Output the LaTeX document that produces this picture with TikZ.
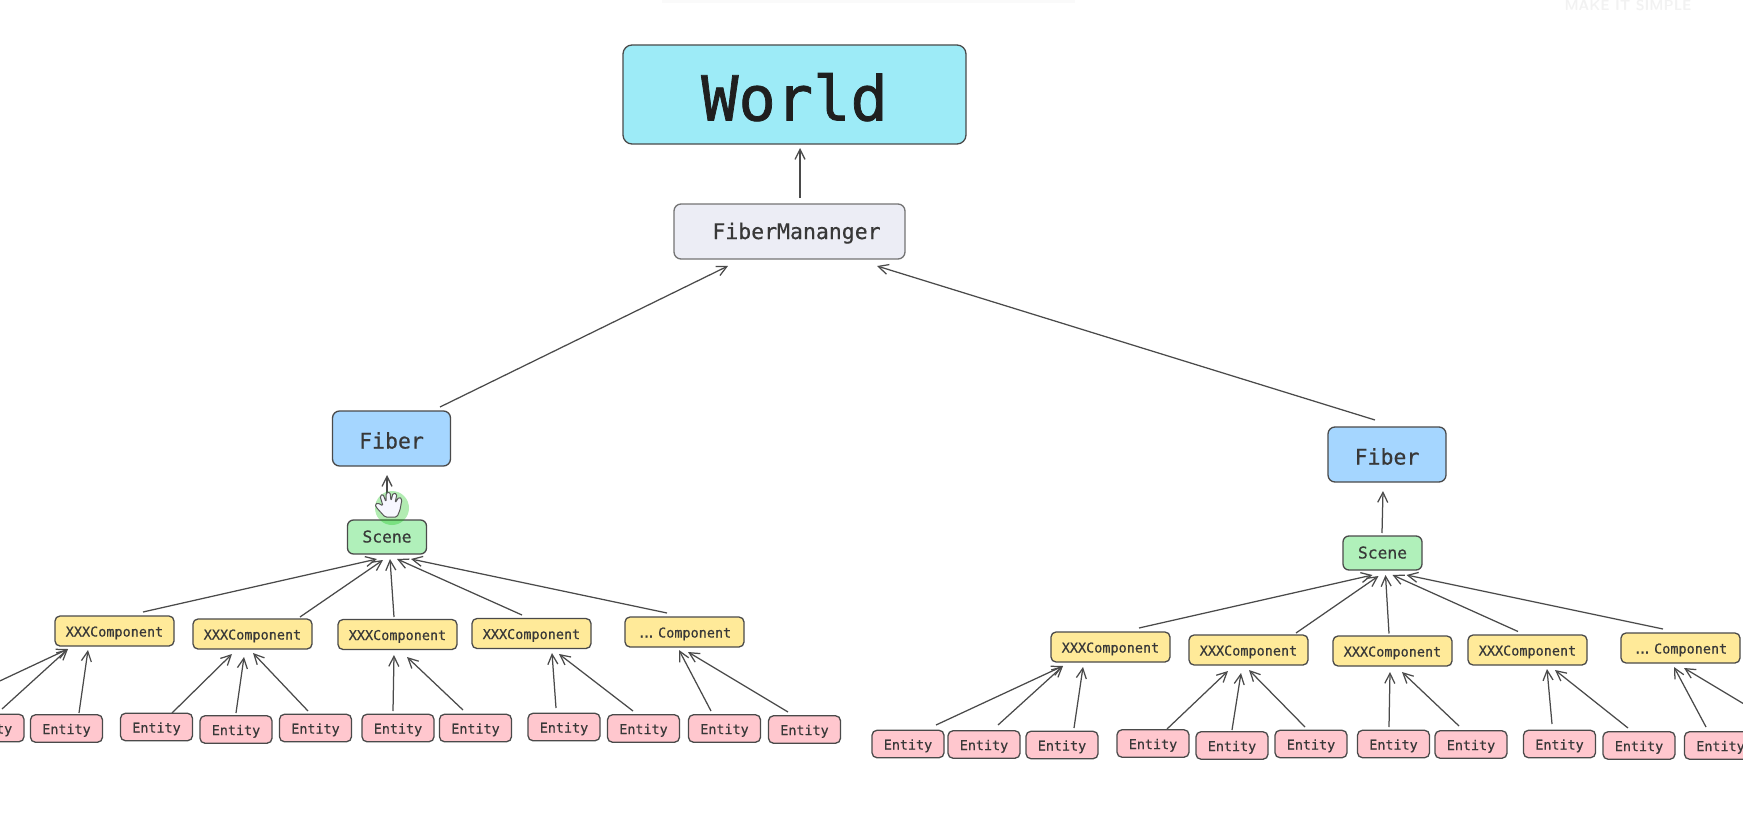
\documentclass[tikz,border=0pt]{standalone}
\usepackage{fontspec}
\setmainfont{DejaVu Sans Mono}[FakeBold=0.5]
\newfontfamily\worldfont{DejaVu Sans Mono}[FakeBold=1.2]
\usetikzlibrary{arrows.meta}
\definecolor{worldfill}{HTML}{9DEBF7}
\definecolor{managerfill}{HTML}{ECEDF5}
\definecolor{fiberfill}{HTML}{A5D6FF}
\definecolor{scenefill}{HTML}{B0F0BA}
\definecolor{compfill}{HTML}{FFEA99}
\definecolor{entityfill}{HTML}{FFC7CE}
\definecolor{edgecol}{HTML}{4A4A4A}
\tikzset{
	box/.style={draw=edgecol,line width=1.3pt,inner sep=0pt,outer sep=0pt,text=black!78,text depth=0pt},
	world/.style={box,fill=worldfill,minimum width=343pt,minimum height=99pt,rounded corners=9pt,font=\worldfont\fontsize{62}{62}\selectfont,text=black!88,text height=52pt},
	manager/.style={box,draw=black!55,fill=managerfill,minimum width=231pt,minimum height=55pt,rounded corners=7pt,font=\fontsize{21.5}{22}\selectfont,text height=15pt},
	fiber/.style={box,fill=fiberfill,minimum width=118pt,minimum height=55pt,rounded corners=7pt,font=\fontsize{21.5}{22}\selectfont,text height=20pt},
	scene/.style={box,fill=scenefill,minimum width=79pt,minimum height=34pt,rounded corners=6pt,font=\fontsize{16.3}{17}\selectfont,text height=11pt},
	comp/.style={box,fill=compfill,minimum width=119pt,minimum height=30pt,rounded corners=5pt,font=\fontsize{13.5}{14}\selectfont,text height=11pt},
	entity/.style={box,fill=entityfill,minimum width=72pt,minimum height=27.5pt,rounded corners=5pt,font=\fontsize{13.4}{14}\selectfont,text height=11pt},
	flow/.style={draw=edgecol,line width=1.25pt,-{Straight Barb[length=10pt,width=10pt]}}
}
\begin{document}
\begin{tikzpicture}[x=1pt,y=-1pt]
	\useasboundingbox (0,0) rectangle (1743,816);
	\clip (0,0) rectangle (1743,816);
	\fill[black!2] (662,0) rectangle (1075,3);
	\node[font=\sffamily\bfseries\fontsize{14.5}{14.5}\selectfont,text=black!5] (mark) at (1628,5) {MAKE IT SIMPLE};
	% upper part
	\node[world] (world) at (794.5,94.5) {World};
	\node[manager] (manager) at (789.5,231.5) {\hspace{14pt}FiberMananger};
	\node[fiber] (fiber_a) at (391.5,438.5) {Fiber};
	\node[fiber] (fiber_b) at (1387,454.5) {Fiber};
	\node[scene] (scene_a) at (387,537) {Scene};
	\node[scene] (scene_b) at (1382.5,553) {Scene};
	\draw[flow] ([shift={(10.5,-33.5)}]manager.center) -- ([shift={(5.5,53.5)}]world.center);
	\draw[flow] ([shift={(48.5,-31.5)}]fiber_a.center) -- ([shift={(-61.5,34.5)}]manager.center);
	\draw[flow] ([shift={(-12,-34.5)}]fiber_b.center) -- ([shift={(87.5,34.5)}]manager.center);
	\draw[flow] ([shift={(0,-20)}]scene_a.center) -- ([shift={(-4.5,36.5)}]fiber_a.center);
	\draw[flow] ([shift={(-0.5,-20)}]scene_b.center) -- ([shift={(-4,36.5)}]fiber_b.center);
	% left tree
	\node[comp] (comp_a1) at (114.5,631) {XXXComponent\hspace{3pt}};
	\node[comp] (comp_a2) at (252.5,634) {XXXComponent\hspace{3pt}};
	\node[comp] (comp_a3) at (397.5,634.5) {XXXComponent\hspace{3pt}};
	\node[comp] (comp_a4) at (531.5,633.5) {XXXComponent\hspace{3pt}};
	\node[comp] (comp_a5) at (684.5,632) {.\kern-3.5pt.\kern-3.5pt.\kern3pt Component};
	\coordinate (ent_a0) at (-60,709);
	\node[entity] (ent_a1) at (-12,728) {Entity};
	\node[entity] (ent_a2) at (66.5,728.5) {Entity};
	\node[entity] (ent_a3) at (156.5,727) {Entity};
	\node[entity] (ent_a4) at (236,729.5) {Entity};
	\node[entity] (ent_a5) at (315.5,728) {Entity};
	\node[entity] (ent_a6) at (398,728) {Entity};
	\node[entity] (ent_a7) at (475.5,728) {Entity};
	\node[entity] (ent_a8) at (564,727) {Entity};
	\node[entity] (ent_a9) at (643.5,728.5) {Entity};
	\node[entity] (ent_a10) at (724.5,728.5) {Entity};
	\node[entity] (ent_a11) at (804.5,729.5) {Entity};
	\draw[flow] ([shift={(28.5,-19)}]comp_a1.center) -- ([shift={(-10,22)}]scene_a.center);
	\draw[flow] ([shift={(47.5,-17)}]comp_a2.center) -- ([shift={(-4,23)}]scene_a.center);
	\draw[flow] ([shift={(-3.5,-17.5)}]comp_a3.center) -- ([shift={(3,22)}]scene_a.center);
	\draw[flow] ([shift={(-9.5,-18.5)}]comp_a4.center) -- ([shift={(10,22)}]scene_a.center);
	\draw[flow] ([shift={(-17.5,-19)}]comp_a5.center) -- ([shift={(24,22)}]scene_a.center);
	\draw[flow] (ent_a0) -- ([shift={(-46.5,18)}]comp_a1.center);
	\draw[flow] ([shift={(14,-19)}]ent_a1.center) -- ([shift={(-46.5,18)}]comp_a1.center);
	\draw[flow] ([shift={(12.5,-15.5)}]ent_a2.center) -- ([shift={(-26.5,19)}]comp_a1.center);
	\draw[flow] ([shift={(15.5,-14)}]ent_a3.center) -- ([shift={(-20.5,20)}]comp_a2.center);
	\draw[flow] ([shift={(0,-16.5)}]ent_a4.center) -- ([shift={(-8.5,23)}]comp_a2.center);
	\draw[flow] ([shift={(-7.5,-17)}]ent_a5.center) -- ([shift={(0.5,19)}]comp_a2.center);
	\draw[flow] ([shift={(-5,-17)}]ent_a6.center) -- ([shift={(-3.5,20.5)}]comp_a3.center);
	\draw[flow] ([shift={(-12.5,-18)}]ent_a7.center) -- ([shift={(9.5,22.5)}]comp_a3.center);
	\draw[flow] ([shift={(-8,-19)}]ent_a8.center) -- ([shift={(20.5,19.5)}]comp_a4.center);
	\draw[flow] ([shift={(-10.5,-17.5)}]ent_a9.center) -- ([shift={(27.5,20.5)}]comp_a4.center);
	\draw[flow] ([shift={(-13.5,-17.5)}]ent_a10.center) -- ([shift={(-5.5,18)}]comp_a5.center);
	\draw[flow] ([shift={(-16.5,-17.5)}]ent_a11.center) -- ([shift={(3.5,20)}]comp_a5.center);
	% right tree
	\node[comp] (comp_b1) at (1110.5,647) {XXXComponent\hspace{3pt}};
	\node[comp] (comp_b2) at (1248.5,650) {XXXComponent\hspace{3pt}};
	\node[comp] (comp_b3) at (1392.5,651) {XXXComponent\hspace{3pt}};
	\node[comp] (comp_b4) at (1527.5,650) {XXXComponent\hspace{3pt}};
	\node[comp] (comp_b5) at (1680.5,648) {.\kern-3.5pt.\kern-3.5pt.\kern3pt Component};
	\node[entity] (ent_b0) at (908,744) {Entity};
	\node[entity] (ent_b1) at (984,744.5) {Entity};
	\node[entity] (ent_b2) at (1062,745) {Entity};
	\node[entity] (ent_b3) at (1153,743.5) {Entity};
	\node[entity] (ent_b4) at (1232,745.5) {Entity};
	\node[entity] (ent_b5) at (1311,744) {Entity};
	\node[entity] (ent_b6) at (1393.5,744) {Entity};
	\node[entity] (ent_b7) at (1471,744.5) {Entity};
	\node[entity] (ent_b8) at (1559.5,744) {Entity};
	\node[entity] (ent_b9) at (1639,745.5) {Entity};
	\node[entity] (ent_b10) at (1720.5,745.5) {Entity};
	\coordinate (ent_b11) at (1784,728);
	\draw[flow] ([shift={(28.5,-19)}]comp_b1.center) -- ([shift={(-10,22)}]scene_b.center);
	\draw[flow] ([shift={(47.5,-17)}]comp_b2.center) -- ([shift={(-4,23)}]scene_b.center);
	\draw[flow] ([shift={(-3.5,-17.5)}]comp_b3.center) -- ([shift={(3,22)}]scene_b.center);
	\draw[flow] ([shift={(-9.5,-18.5)}]comp_b4.center) -- ([shift={(10,22)}]scene_b.center);
	\draw[flow] ([shift={(-17.5,-19)}]comp_b5.center) -- ([shift={(24,22)}]scene_b.center);
	\draw[flow] ([shift={(28,-19)}]ent_b0.center) -- ([shift={(-47.5,19)}]comp_b1.center);
	\draw[flow] ([shift={(14,-19.5)}]ent_b1.center) -- ([shift={(-47.5,19)}]comp_b1.center);
	\draw[flow] ([shift={(12,-17)}]ent_b2.center) -- ([shift={(-27.5,20)}]comp_b1.center);
	\draw[flow] ([shift={(14,-14.5)}]ent_b3.center) -- ([shift={(-20.5,21)}]comp_b2.center);
	\draw[flow] ([shift={(0,-15.5)}]ent_b4.center) -- ([shift={(-7.5,23)}]comp_b2.center);
	\draw[flow] ([shift={(-6,-17)}]ent_b5.center) -- ([shift={(0.5,20)}]comp_b2.center);
	\draw[flow] ([shift={(-4.5,-17)}]ent_b6.center) -- ([shift={(-2.5,21)}]comp_b3.center);
	\draw[flow] ([shift={(-12,-18.5)}]ent_b7.center) -- ([shift={(9.5,21)}]comp_b3.center);
	\draw[flow] ([shift={(-7.5,-20)}]ent_b8.center) -- ([shift={(19.5,19)}]comp_b4.center);
	\draw[flow] ([shift={(-11,-17.5)}]ent_b9.center) -- ([shift={(27.5,20)}]comp_b4.center);
	\draw[flow] ([shift={(-14.5,-18.5)}]ent_b10.center) -- ([shift={(-6.5,19)}]comp_b5.center);
	\draw[flow] (ent_b11) -- ([shift={(3.5,20)}]comp_b5.center);
	% pointer
	\fill[green!75!black,opacity=0.3] (392,508) circle (17);
	\draw[draw=black!65,fill=blue!3,line width=1pt,rounded corners=1.5pt,line join=round] (385,517) -- (376,507) -- (375,504) -- (378,503) -- (383,506) -- (380,496) -- (383,494) -- (386,502) -- (386,493) -- (390,492) -- (391,501) -- (393,493) -- (397,494) -- (395,503) -- (399,497) -- (402,499) -- (400,510) -- (397,517) -- cycle;
\end{tikzpicture}
\end{document}
